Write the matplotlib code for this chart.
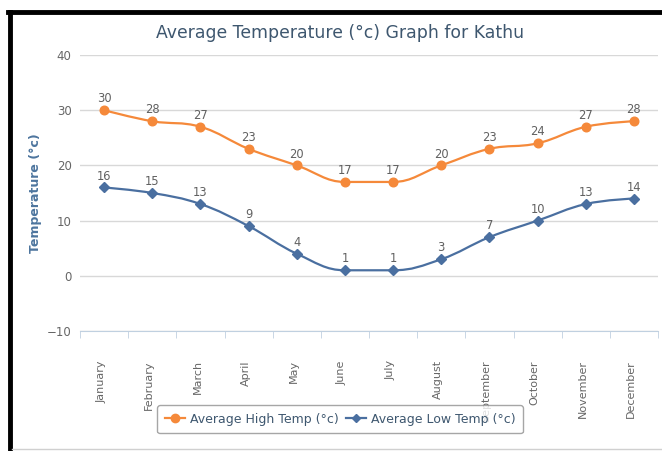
import matplotlib
matplotlib.use("Agg")
import matplotlib.pyplot as plt
from matplotlib.path import Path
from matplotlib.patches import PathPatch
from matplotlib.lines import Line2D
import matplotlib.transforms as mtransforms

months = ["January", "February", "March", "April", "May", "June", "July",
          "August", "September", "October", "November", "December"]
high = [30, 28, 27, 23, 20, 17, 17, 20, 23, 24, 27, 28]
low = [16, 15, 13, 9, 4, 1, 1, 3, 7, 10, 13, 14]
yticks = [-10, 0, 10, 20, 30, 40]

HIGH_C = "#f5893a"
LOW_C = "#4a6fa0"


def spline_path(xs, ys, smoothing=1.5):
    n = len(xs)
    left = [(xs[i], ys[i]) for i in range(n)]
    right = [(xs[i], ys[i]) for i in range(n)]
    denom = smoothing + 1
    for i in range(1, n - 1):
        px, py = xs[i], ys[i]
        lx, ly = xs[i - 1], ys[i - 1]
        nx, ny = xs[i + 1], ys[i + 1]
        lcx = (smoothing * px + lx) / denom
        lcy = (smoothing * py + ly) / denom
        rcx = (smoothing * px + nx) / denom
        rcy = (smoothing * py + ny) / denom
        if rcx != lcx:
            corr = ((rcy - lcy) * (rcx - px)) / (rcx - lcx) + py - rcy
            lcy += corr
            rcy += corr
        if lcy > ly and lcy > py:
            lcy = max(ly, py)
            rcy = 2 * py - lcy
        elif lcy < ly and lcy < py:
            lcy = min(ly, py)
            rcy = 2 * py - lcy
        if rcy > ny and rcy > py:
            rcy = max(ny, py)
            lcy = 2 * py - rcy
        elif rcy < ny and rcy < py:
            rcy = min(ny, py)
            lcy = 2 * py - rcy
        left[i] = (lcx, lcy)
        right[i] = (rcx, rcy)
    verts = [(xs[0], ys[0])]
    codes = [Path.MOVETO]
    for i in range(1, n):
        verts += [right[i - 1], left[i], (xs[i], ys[i])]
        codes += [Path.CURVE4] * 3
    return Path(verts, codes)


W, H = 662, 451
fig = plt.figure(figsize=(W / 100, H / 100), dpi=100)
ax = fig.add_axes([80 / W, 1 - 331 / H, 578 / W, 276 / H])

x = list(range(len(months)))
ax.set_xlim(-0.5, len(months) - 0.5)
ax.set_ylim(-10, 40)

for xs_, ys_, c, m, ms in [(x, high, HIGH_C, "o", 6.2), (x, low, LOW_C, "D", 5)]:
    ax.add_patch(PathPatch(spline_path(xs_, ys_), facecolor="none",
                           edgecolor=c, lw=1.6, zorder=3, clip_on=False))
    ax.plot(xs_, ys_, linestyle="none", marker=m, color=c, markersize=ms,
            zorder=4, clip_on=False)
    for xi, yi in zip(xs_, ys_):
        ax.annotate(str(yi), (xi, yi), xytext=(0, 3.5), textcoords="offset points",
                    ha="center", va="bottom", fontsize=8.3, color="#606060",
                    zorder=5)

# grid
ax.set_yticks(yticks)
ax.yaxis.grid(True, color="#d8d8d8", lw=1)
ax.set_axisbelow(True)
ax.tick_params(axis="y", length=0, labelsize=8.5, labelcolor="#666666", pad=6)
for s in ["top", "right", "left"]:
    ax.spines[s].set_visible(False)
ax.spines["bottom"].set_color("#c0d0e0")

ax.set_xticks(x)
ax.set_xticklabels(months, rotation=90, fontsize=8, color="#666666", va="top", ha="center")
ax.tick_params(axis="x", length=0, pad=21)
off = mtransforms.ScaledTranslation(-3 / 100, 0, fig.dpi_scale_trans)
for lab in ax.get_xticklabels():
    lab.set_transform(lab.get_transform() + off)
# category boundary ticks
ax.set_xticks([i - 0.5 for i in range(len(months) + 1)], minor=True)
ax.tick_params(axis="x", which="minor", length=5, color="#c0d0e0", direction="out")

ax.set_ylabel("Temperature (°c)", fontsize=9, color="#4d759e", fontweight="bold")
ax.yaxis.set_label_coords((42 - 80) / 578, 0.5)

fig.text(340 / W, 1 - 33 / H, "Average Temperature (°c) Graph for Kathu",
         ha="center", va="center", fontsize=12.4, color="#3e576f")

handles = [Line2D([0], [0], color=HIGH_C, lw=1.6, marker="o", markersize=6),
           Line2D([0], [0], color=LOW_C, lw=1.6, marker="D", markersize=4.5)]
leg = fig.legend(handles, ["Average High Temp (°c)", "Average Low Temp (°c)"],
                 loc="center", bbox_to_anchor=(340 / W, 1 - 419 / H), ncol=2,
                 fontsize=9, frameon=True, handlelength=1.6, handletextpad=0.4,
                 columnspacing=0.6, borderpad=0.6, fancybox=True)
leg.get_frame().set_edgecolor("#909090")
leg.get_frame().set_linewidth(1)
for t in leg.get_texts():
    t.set_color("#3e576f")

# black frame on left and top, light line at bottom
fig.add_artist(Line2D([10 / W, 10 / W], [0, 1 - 12 / H], color="black", lw=3.5,
                      transform=fig.transFigure))
fig.add_artist(Line2D([8 / W, 1], [1 - 12 / H, 1 - 12 / H], color="black", lw=3.5,
                      transform=fig.transFigure))
fig.add_artist(Line2D([12 / W, 1], [1 - 449 / H, 1 - 449 / H], color="#d0d0d0", lw=1,
                      transform=fig.transFigure))

fig.savefig("out.png", dpi=100)
